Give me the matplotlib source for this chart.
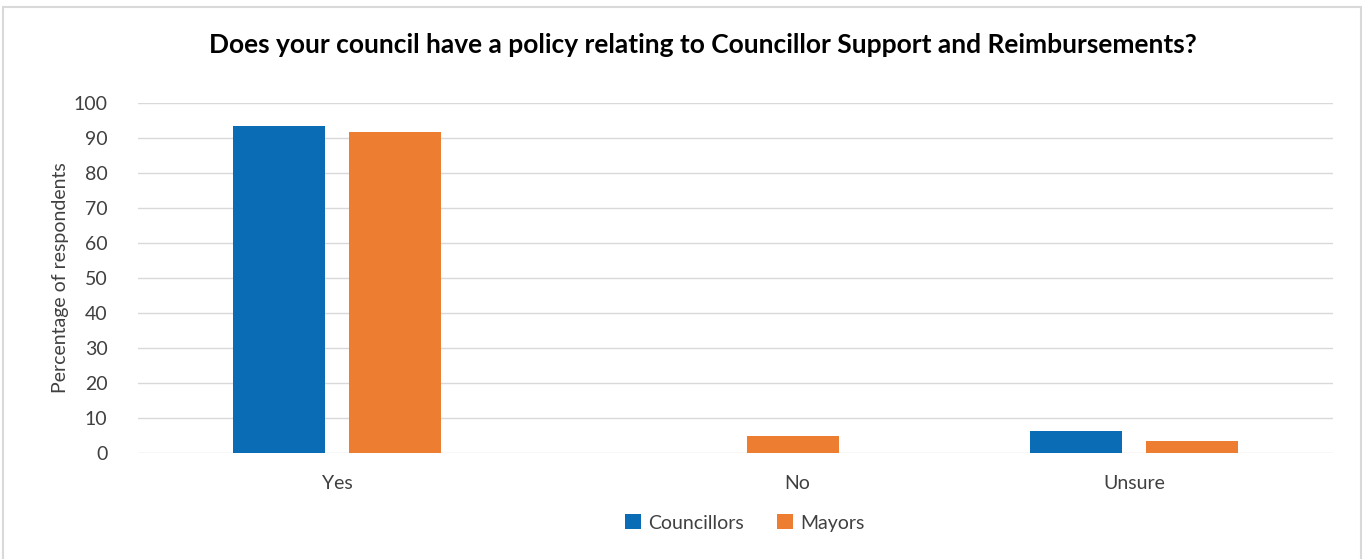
import numpy as np
import matplotlib.pyplot as plt
import matplotlib.transforms as mtransforms
from matplotlib.patches import Rectangle

plt.rcParams['font.family'] = ['Lato', 'DejaVu Sans']

categories = ["Yes", "No", "Unsure"]
series_names = ["Councillors", "Mayors"]
councillors = [93.3, 0.0, 6.3]
mayors = [91.7, 4.9, 3.3]
colors = ["#0b6cb6", "#ed7d31"]

fig = plt.figure(figsize=(13.67, 5.59), dpi=100)
ax = fig.add_axes([138 / 1367, 1 - 453 / 559, (1333 - 138) / 1367, 350 / 559])

x = np.arange(len(categories))
w = 0.231
ax.bar(x - 0.145, councillors, w, color=colors[0], label=series_names[0], zorder=3)
ax.bar(x + 0.145, mayors, w, color=colors[1], label=series_names[1], zorder=3)

ax.set_xlim(-0.5, 2.5)
ax.set_ylim(0, 100)
ax.set_yticks(range(0, 101, 10))
ax.set_xticks(x)
ax.set_xticklabels(categories)
ax.grid(axis='y', color='#d9d9d9', linewidth=1.0, zorder=0)
for s in ax.spines.values():
    s.set_visible(False)
ax.tick_params(length=0, labelsize=14, colors='#404040')
ax.tick_params(axis='y', pad=22)
ax.tick_params(axis='x', pad=16)

# the "No" label sits a little right of its bars
no_lbl = ax.get_xticklabels()[1]
no_lbl.set_transform(no_lbl.get_transform() +
                     mtransforms.ScaledTranslation(62 / 100, 0, fig.dpi_scale_trans))

ax.set_ylabel("Percentage of respondents", fontsize=14, color='#404040', labelpad=3)

fig.text(0.514, 1 - 45 / 559, "Does your council have a policy relating to Councillor Support and Reimbursements?",
         ha='center', va='center', fontsize=19, fontweight='bold', color='black')

fig.legend(loc='center', bbox_to_anchor=(0.545, 1 - 523 / 559), ncol=2, frameon=False,
           fontsize=14, handlelength=0.8, handleheight=0.8, columnspacing=1.7,
           handletextpad=0.4, labelcolor='#404040')

# outer chart border
fig.patches.append(Rectangle((3 / 1367, -0.01), 1358 / 1367, 1 - 7 / 559 + 0.01,
                             transform=fig.transFigure, fill=False, edgecolor='#d9d9d9', linewidth=1.5))

fig.savefig("out.png", dpi=100)
